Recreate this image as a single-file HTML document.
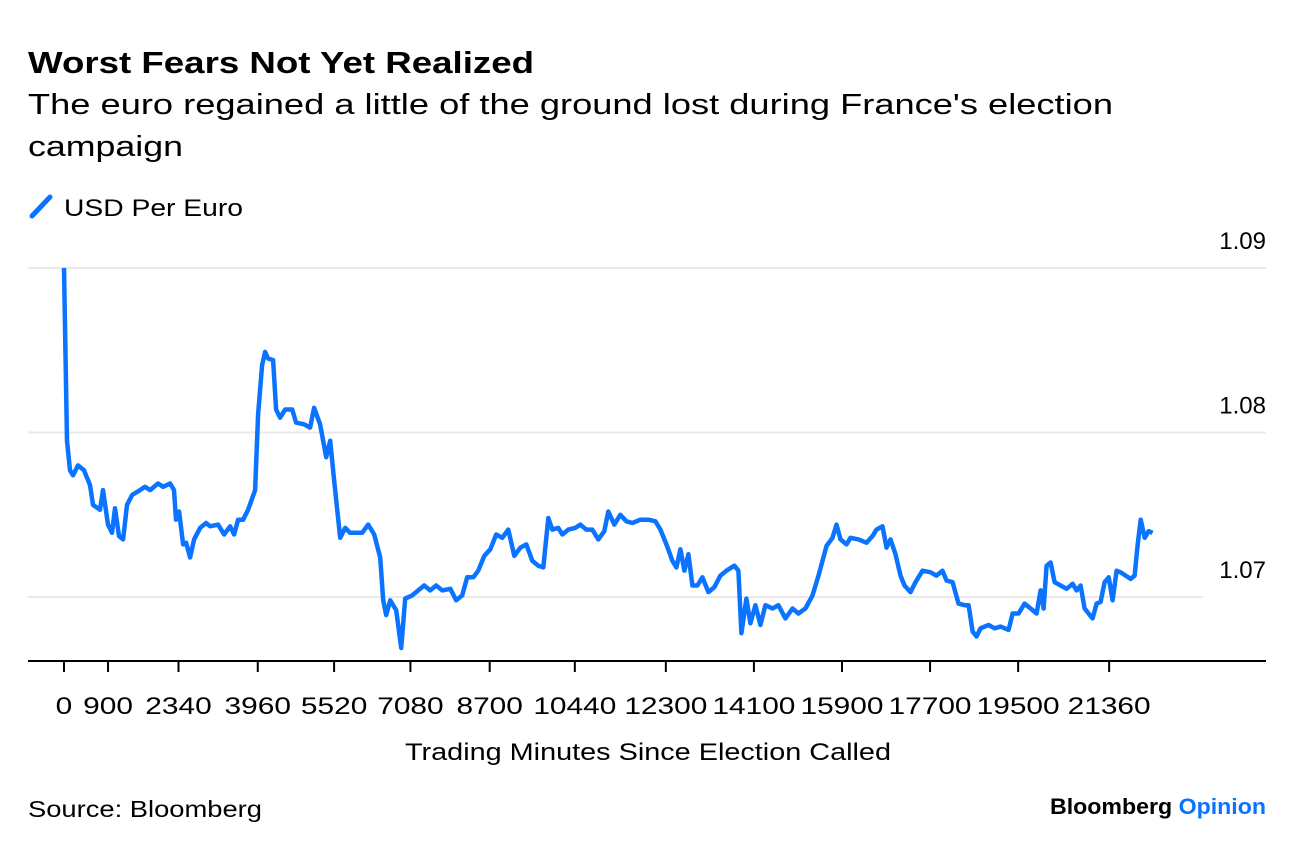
<!DOCTYPE html>
<html><head><meta charset="utf-8"><style>
body{margin:0;background:#fff;font-family:"Liberation Sans",sans-serif;}
svg{display:block}
</style></head><body>
<svg width="1296" height="850">
<text x="28" y="73" font-size="31" font-weight="bold" fill="#000" textLength="506" lengthAdjust="spacingAndGlyphs">Worst Fears Not Yet Realized</text>
<text x="28" y="114" font-size="29" fill="#000" textLength="1085" lengthAdjust="spacingAndGlyphs">The euro regained a little of the ground lost during France's election</text>
<text x="28" y="156" font-size="29" fill="#000" textLength="155" lengthAdjust="spacingAndGlyphs">campaign</text>
<g>
<line x1="32" y1="216" x2="50" y2="197" stroke="#0a73ff" stroke-width="5" stroke-linecap="round"/>
<text x="64" y="216" font-size="24" fill="#000" textLength="179" lengthAdjust="spacingAndGlyphs">USD Per Euro</text>
</g>
<g id="grid"></g>
<g id="xaxis"></g>
<path id="line" fill="none" stroke="#0a73ff" stroke-width="4.5" stroke-linejoin="round"/>
<text x="405" y="760" font-size="24" textLength="486" lengthAdjust="spacingAndGlyphs">Trading Minutes Since Election Called</text>
<text x="28" y="817" font-size="23" textLength="234" lengthAdjust="spacingAndGlyphs">Source: Bloomberg</text>
<text x="1050" y="814" font-size="22" font-weight="bold" textLength="216" lengthAdjust="spacingAndGlyphs"><tspan fill="#000">Bloomberg </tspan><tspan fill="#0a73ff">Opinion</tspan></text>
</svg>
<script>
const minutes=[0,61,123,184,286,409,532,593,736,798,900,982,1043,1125,1207,1288,1391,1554,1656,1759,1922,2025,2168,2249,2290,2352,2434,2495,2577,2658,2781,2904,2986,3149,3272,3395,3476,3558,3660,3763,3906,3967,4049,4110,4172,4274,4335,4417,4519,4663,4744,4908,5030,5112,5235,5358,5440,5521,5644,5746,5848,5971,6094,6217,6339,6462,6524,6585,6667,6789,6892,6973,7117,7239,7362,7485,7607,7730,7894,8016,8139,8241,8364,8466,8589,8712,8834,8957,9080,9202,9325,9448,9571,9693,9796,9898,9980,10102,10184,10307,10450,10552,10675,10798,10920,11043,11125,11247,11370,11493,11616,11779,11943,12086,12188,12311,12434,12515,12597,12679,12761,12843,12945,13047,13170,13292,13415,13538,13701,13783,13845,13947,14029,14131,14233,14335,14479,14601,14744,14888,15010,15153,15297,15419,15501,15583,15706,15787,15869,15992,16074,16237,16401,16524,16605,16728,16810,16892,16994,17096,17178,17301,17403,17546,17710,17832,17955,18037,18160,18282,18405,18487,18569,18650,18732,18896,19018,19141,19305,19387,19509,19632,19755,19877,19959,20020,20082,20164,20245,20368,20491,20613,20695,20777,20859,20941,21022,21104,21186,21268,21350,21431,21513,21595,21697,21800,21881,21943,22004,22086,22168,22249];
const usdPerEuro=[1.0900,1.0795,1.0777,1.0774,1.0780,1.0777,1.0768,1.0756,1.0753,1.0765,1.0744,1.0739,1.0754,1.0737,1.0735,1.0756,1.0762,1.0765,1.0767,1.0765,1.0769,1.0767,1.0769,1.0765,1.0747,1.0752,1.0732,1.0733,1.0724,1.0735,1.0742,1.0745,1.0743,1.0744,1.0738,1.0743,1.0738,1.0747,1.0747,1.0753,1.0765,1.0811,1.0841,1.0849,1.0845,1.0844,1.0814,1.0809,1.0814,1.0814,1.0806,1.0805,1.0803,1.0815,1.0805,1.0785,1.0795,1.0771,1.0736,1.0742,1.0739,1.0739,1.0739,1.0744,1.0738,1.0724,1.0698,1.0689,1.0698,1.0692,1.0669,1.0699,1.0701,1.0704,1.0707,1.0704,1.0707,1.0704,1.0705,1.0698,1.0701,1.0712,1.0712,1.0716,1.0725,1.0729,1.0738,1.0736,1.0741,1.0725,1.0730,1.0732,1.0722,1.0719,1.0718,1.0748,1.0741,1.0742,1.0738,1.0741,1.0742,1.0744,1.0741,1.0741,1.0735,1.0740,1.0752,1.0744,1.0750,1.0746,1.0745,1.0747,1.0747,1.0746,1.0741,1.0732,1.0722,1.0718,1.0729,1.0716,1.0726,1.0707,1.0707,1.0712,1.0703,1.0706,1.0713,1.0716,1.0719,1.0716,1.0678,1.0699,1.0684,1.0695,1.0683,1.0695,1.0693,1.0695,1.0687,1.0693,1.0690,1.0693,1.0701,1.0713,1.0722,1.0731,1.0736,1.0744,1.0735,1.0732,1.0736,1.0735,1.0733,1.0737,1.0741,1.0743,1.0730,1.0735,1.0726,1.0713,1.0707,1.0703,1.0709,1.0716,1.0715,1.0713,1.0716,1.0710,1.0709,1.0696,1.0695,1.0695,1.0679,1.0676,1.0681,1.0683,1.0681,1.0682,1.0680,1.0690,1.0690,1.0696,1.0693,1.0690,1.0704,1.0693,1.0719,1.0721,1.0709,1.0707,1.0705,1.0708,1.0704,1.0707,1.0693,1.0690,1.0687,1.0696,1.0697,1.0709,1.0712,1.0698,1.0716,1.0715,1.0713,1.0711,1.0713,1.0732,1.0747,1.0736,1.0740,1.0739];
const xTicks=[0,900,2340,3960,5520,7080,8700,10440,12300,14100,15900,17700,19500,21360];
const yTicks=[1.07,1.08,1.09];
const NS="http://www.w3.org/2000/svg";
const xs=m=>64+m*0.04893;
const ys=v=>268+(1.09-v)*16450;
function mk(tag,attrs,parent){const e=document.createElementNS(NS,tag);for(const k in attrs)e.setAttribute(k,attrs[k]);parent.appendChild(e);return e;}
const grid=document.getElementById('grid');
yTicks.forEach((t,i)=>{
  const y=ys(t);
  const gl=mk('line',{x1:28,x2:i===0?1203:1266,y1:y,y2:y,stroke:'#e9e9e9','stroke-width':2},grid);
  
  
  const tl=mk('text',{x:1266,y:y-19,'font-size':24,'text-anchor':'end',fill:'#000'},grid);
  tl.textContent=t.toFixed(2);
  
  
});
const xa=document.getElementById('xaxis');
const al=mk('line',{x1:28,x2:1266,y1:661,y2:661,stroke:'#000','stroke-width':2},xa);


xTicks.forEach(t=>{
  const x=xs(t);
  const tk=mk('line',{x1:x,x2:x,y1:661,y2:672,stroke:'#000','stroke-width':2},xa);
  
  
  const s=String(t);
  const w=s.length*16.6;
  const tl=mk('text',{x:x-w/2,y:714,'font-size':24,fill:'#000',textLength:w,lengthAdjust:'spacingAndGlyphs'},xa);
  tl.textContent=s;
  
  
});
document.getElementById('line').setAttribute('d',minutes.map((m,i)=>(i?'L':'M')+xs(m).toFixed(1)+','+ys(usdPerEuro[i]).toFixed(1)).join(''));
</script>
</body></html>
